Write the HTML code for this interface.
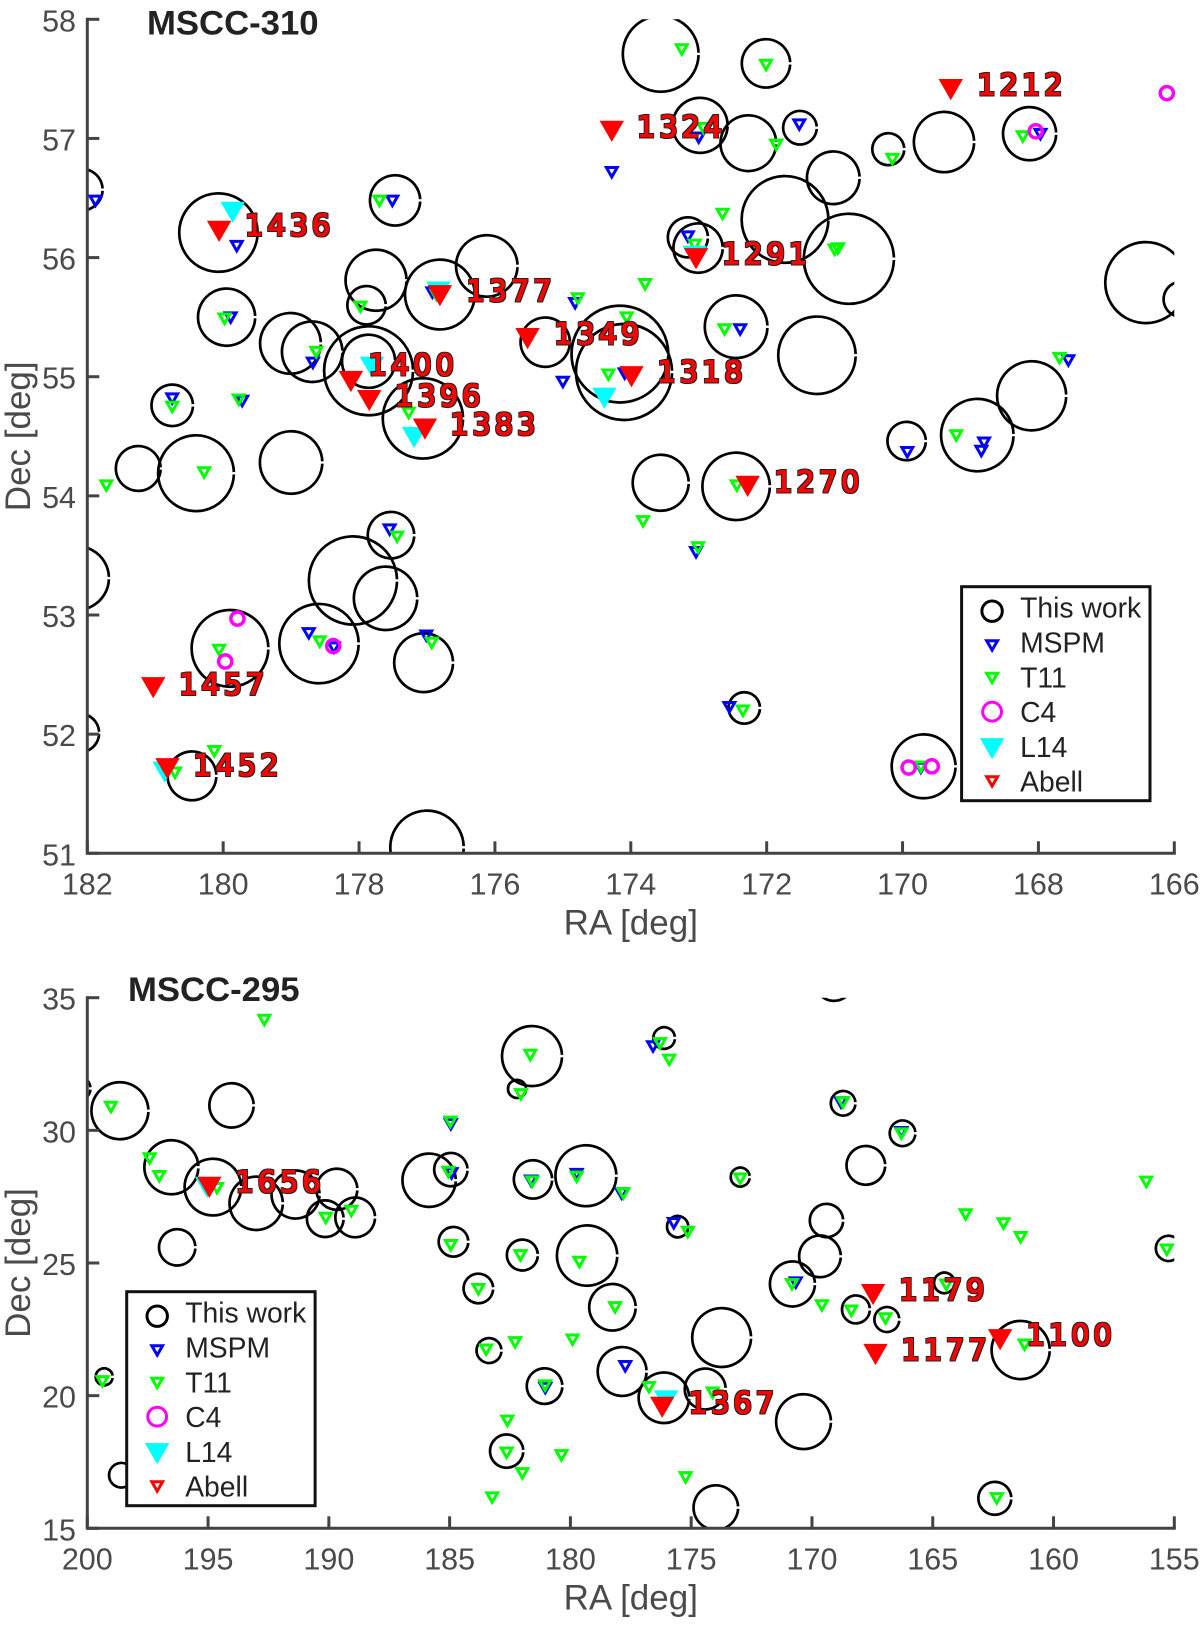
<!DOCTYPE html>
<html lang="en">
<head>
<meta charset="utf-8">
<title>MSCC-310 and MSCC-295 cluster maps</title>
<style>
html,body{margin:0;padding:0;background:#fff;}
svg{display:block;}
text{font-family:"Liberation Sans",sans-serif;}
</style>
</head>
<body>
<svg id="chart" xmlns="http://www.w3.org/2000/svg" width="1200" height="1627" viewBox="0 0 1200 1627">
<defs>
<filter id="label-outline" x="-15%" y="-15%" width="130%" height="130%">
<feMorphology in="SourceAlpha" operator="dilate" radius="1" result="grown"/>
<feFlood flood-color="#222" result="ink"/>
<feComposite in="ink" in2="grown" operator="in" result="outline"/>
<feMerge><feMergeNode in="outline"/><feMergeNode in="SourceGraphic"/></feMerge>
</filter>
</defs>
<rect x="0" y="0" width="1200" height="1627" fill="#fff"/>
</svg>
<script>
/* ---------- MSCC-310 data ---------- */
const p1XTicks = [182,180,178,176,174,172,170,168,166];
const p1YTicks = [58,57,56,55,54,53,52,51];
const p1CircleRa = [182.08,180.07,177.47,179.95,177.75,176.12,176.81,177.89,179.01,178.69,177.86,177.86,177.06,180.75,175.26,173.56,172.01,172.98,172.27,171.51,170.21,169.39,168.13,171.02,171.73,173.16,173.01,170.79,166.42,165.90,172.45,171.26,174.16,174.10,168.10,168.90,169.94,181.25,180.40,179.00,182.15,177.53,178.09,177.61,179.90,178.59,177.05,182.11,180.46,177.00,173.56,172.45,172.33,169.69];
const p1CircleDec = [56.57,56.21,56.48,55.50,55.81,55.93,55.69,55.60,55.28,55.21,55.05,55.13,54.65,54.76,55.29,57.71,57.63,57.11,56.96,57.09,56.91,56.97,57.04,56.67,56.32,56.17,56.08,55.99,55.79,55.65,55.42,55.18,55.19,55.04,54.84,54.51,54.46,54.23,54.19,54.28,53.31,53.67,53.29,53.14,52.72,52.76,52.60,52.01,51.65,51.05,54.11,54.08,52.22,51.73];
const p1CircleRadius = [0.174,0.329,0.211,0.240,0.256,0.258,0.293,0.161,0.255,0.254,0.373,0.223,0.337,0.174,0.207,0.318,0.203,0.231,0.234,0.141,0.134,0.253,0.223,0.221,0.364,0.168,0.207,0.378,0.340,0.147,0.263,0.325,0.406,0.403,0.290,0.304,0.161,0.188,0.318,0.262,0.267,0.195,0.370,0.266,0.322,0.333,0.247,0.162,0.205,0.308,0.235,0.283,0.132,0.268];
const p1MspmRa = [181.88,179.80,177.51,179.89,176.92,178.68,180.75,179.72,175.00,174.82,174.28,173.00,171.52,167.97,173.16,172.39,167.56,174.09,169.93,168.80,168.84,173.04,172.55,169.73,177.55,178.74,177.01,178.37];
const p1MspmDec = [56.47,56.09,56.47,55.49,55.70,55.11,54.81,54.79,54.95,55.61,56.71,57.00,57.11,57.03,56.17,55.39,55.13,55.02,54.36,54.44,54.37,53.52,52.22,51.71,53.71,52.84,52.82,52.72];
const p1T11Ra = [177.70,179.98,177.98,178.63,180.75,179.77,177.27,174.78,176.86,180.07,173.25,172.01,172.93,171.86,170.15,168.23,172.65,173.79,173.06,171.00,170.95,174.06,172.62,174.33,167.69,169.21,181.72,180.28,177.44,178.58,176.93,180.06,180.13,180.71,172.44,173.82,173.01,172.35,169.73];
const p1T11Dec = [56.47,55.48,55.58,55.20,54.74,54.80,54.69,55.65,55.68,56.23,57.74,57.61,57.08,56.94,56.82,57.01,56.36,55.77,56.10,56.06,56.07,55.49,55.39,55.01,55.15,54.50,54.08,54.19,53.65,52.77,52.76,52.70,51.85,51.67,54.08,53.78,53.56,52.19,51.72];
const p1C4Ra = [166.11,168.04,179.79,179.97,178.38,169.91,169.57];
const p1C4Dec = [57.38,57.06,52.97,52.61,52.74,51.72,51.73];
const p1L14Ra = [179.86,176.83,177.81,177.19,173.06,174.39,180.86];
const p1L14Dec = [56.38,55.71,55.08,54.49,56.01,54.82,51.68];
const p1AbellRa = [180.06,176.81,178.12,177.85,177.03,175.52,174.28,169.29,173.04,173.99,181.03,180.82,172.28];
const p1AbellDec = [56.22,55.68,54.96,54.80,54.56,55.32,57.06,57.41,55.99,55.00,52.39,51.71,54.08];
const p1AbellNames = ["1436","1377","1400","1396","1383","1349","1324","1212","1291","1318","1457","1452","1270"];
const p1LabelRa = [179.68,176.42,177.86,177.47,176.66,175.13,173.91,168.90,172.66,173.61,180.65,180.44,171.89];
const p1LabelDec = [56.18,55.63,55.01,54.75,54.51,55.27,57.01,57.36,55.94,54.95,52.33,51.65,54.03];

/* ---------- MSCC-295 data ---------- */
const p2XTicks = [200,195,190,185,180,175,170,165,160,155];
const p2YTicks = [35,30,25,20,15];
const p2CircleRa = [200.35,198.65,194.03,196.52,194.80,193.01,191.38,189.67,190.15,188.91,196.28,185.85,184.95,181.55,179.36,181.59,182.21,184.84,181.99,179.31,183.81,176.12,169.09,168.71,166.25,167.77,172.97,175.56,169.40,169.67,170.81,164.52,155.24,168.18,166.90,173.74,161.36,178.26,177.86,176.13,174.42,170.35,173.98,162.43,199.30,198.59,183.37,181.07,182.64];
const p2CircleDec = [31.58,30.74,30.94,28.61,27.86,27.25,27.58,27.78,26.67,26.72,25.59,28.12,28.52,28.15,28.29,32.80,31.56,25.80,25.30,25.28,24.04,33.48,35.60,31.02,29.89,28.68,28.24,26.37,26.60,25.25,24.21,24.25,25.55,23.25,22.87,22.19,21.72,23.33,20.91,19.92,20.25,19.02,15.78,16.13,20.71,17.00,21.70,20.36,17.91];
const p2CircleRadius = [0.44,1.074,0.835,1.018,1.068,1.005,0.905,0.773,0.691,0.748,0.685,1.005,0.628,0.722,1.149,1.131,0.34,0.559,0.584,1.137,0.558,0.408,0.72,0.465,0.484,0.729,0.358,0.402,0.628,0.785,0.848,0.388,0.477,0.526,0.47,1.109,1.096,0.877,0.921,0.952,0.771,1.034,0.84,0.62,0.32,0.464,0.47,0.67,0.627];
const p2MspmRa = [184.95,184.92,181.63,179.74,176.58,177.88,175.72,168.80,166.30,170.67,181.04,177.73];
const p2MspmDec = [30.20,28.35,28.07,28.32,33.13,27.59,26.47,31.02,29.90,24.23,20.26,21.08];
const p2T11Ra = [192.67,181.66,182.05,199.02,184.97,197.42,197.02,194.63,185.05,181.58,179.74,190.13,189.07,184.95,182.07,179.63,183.81,176.29,175.91,168.72,166.30,172.97,177.81,175.14,163.64,162.07,161.36,156.16,155.31,170.83,164.44,169.59,168.37,166.96,161.20,178.15,176.75,174.11,175.23,162.35,183.49,182.29,179.91,199.37,181.05,182.61,182.64,180.37,181.99,183.24];
const p2T11Dec = [34.13,32.81,31.33,30.85,30.29,28.91,28.24,27.79,28.40,28.04,28.22,26.67,26.93,25.64,25.26,25.01,23.98,33.25,32.63,31.02,29.85,28.15,27.59,26.14,26.80,26.46,25.94,28.03,25.47,24.17,24.15,23.37,23.17,22.88,21.89,23.30,20.29,20.08,16.89,16.10,21.70,21.98,22.08,20.51,20.35,19.02,17.82,17.72,17.04,16.13];
const p2C4Ra = [];
const p2C4Dec = [];
const p2L14Ra = [195.04,176.04];
const p2L14Dec = [27.85,19.80];
const p2AbellRa = [194.95,167.47,167.37,162.21,176.20];
const p2AbellDec = [27.85,23.81,21.55,22.11,19.56];
const p2AbellNames = ["1656","1179","1177","1100","1367"];
const p2LabelRa = [193.87,166.39,166.30,161.12,175.10];
const p2LabelDec = [27.65,23.58,21.33,21.89,19.32];

const legendEntries = ["This work","MSPM","T11","C4","L14","Abell"];

/* ---------- drawing ---------- */
const NS = "http://www.w3.org/2000/svg";
const svg = document.getElementById("chart");
const AXIS_COLOR = "#434343";
const SMALL_TRI = "-5.4,-5.5 5.4,-5.5 0,3.95";
const BIG_TRI = "-12.2,-10.6 12.2,-10.6 0,10.6";

function make(tag, attrs, parent) {
  const el = document.createElementNS(NS, tag);
  for (const k in attrs) el.setAttribute(k, attrs[k]);
  parent.appendChild(el);
  return el;
}
function xScale(p, v) { return p.left + (p.xMax - v) / (p.xMax - p.xMin) * (p.right - p.left); }
function yScale(p, v) { return p.top + (p.yMax - v) / (p.yMax - p.yMin) * (p.bottom - p.top); }
function pxPerDec(p) { return (p.bottom - p.top) / (p.yMax - p.yMin); }

function drawTri(parent, x, y, color, big, name) {
  const el = make("polygon", {
    points: big ? BIG_TRI : SMALL_TRI,
    transform: "translate(" + x.toFixed(2) + "," + y.toFixed(2) + ")",
    fill: big ? color : "none",
    stroke: big ? "none" : color,
    "stroke-width": big ? 0 : 3,
    "stroke-miterlimit": 10
  }, parent);
  
  
  return el;
}
function drawRing(parent, x, y, r, color, width, name) {
  const el = make("circle", { cx: x.toFixed(2), cy: y.toFixed(2), r: r, fill: "none", stroke: color, "stroke-width": width }, parent);
  
  
  return el;
}
function notchedCircle(x, y, r) {
  const a = 1.2 / r;
  const x1 = x + r * Math.cos(a), y1 = y + r * Math.sin(a);
  const x2 = x + r * Math.cos(a), y2 = y - r * Math.sin(a);
  return "M" + x1.toFixed(2) + " " + y1.toFixed(2) + "A" + r.toFixed(2) + " " + r.toFixed(2) + " 0 1 1 " + x2.toFixed(2) + " " + y2.toFixed(2);
}

function drawPanel(p) {
  const g = make("g", {}, svg);
  
  

  const clip = make("clipPath", { id: p.id + "-clip" }, g);
  make("rect", { x: p.left, y: p.top, width: p.right - p.left, height: p.bottom - p.top }, clip);

  /* this-work circles */
  const cg = make("g", { "clip-path": "url(#" + p.id + "-clip)" }, g);
  
  
  p.circleRa.forEach(function (ra, i) {
    const r = p.circleRadius[i] * pxPerDec(p);
    const c = make("path", {
      d: notchedCircle(xScale(p, ra), yScale(p, p.circleDec[i]), r),
      fill: "none", stroke: "#000", "stroke-width": 2.7
    }, cg);
    
    
  });

  /* axes */
  const ax = make("g", { stroke: AXIS_COLOR, "stroke-width": 3, fill: "none" }, g);
  
  
  const yAxis = make("line", { x1: p.left, y1: p.top - 1.5, x2: p.left, y2: p.bottom + 1.5 }, ax);
  
  
  const xAxis = make("line", { x1: p.left, y1: p.bottom, x2: p.right + 1.5, y2: p.bottom }, ax);
  
  

  p.xTicks.forEach(function (t) {
    const x = xScale(p, t);
    const tick = make("line", { x1: x, y1: p.bottom, x2: x, y2: p.bottom - 12 }, ax);
    
    
    const lab = make("text", { x: x, y: p.bottom + 41, "text-anchor": "middle", "font-size": 30.5, fill: "#4a4a4a" }, g);
    lab.textContent = t;
    
    
  });
  p.yTicks.forEach(function (t) {
    const y = yScale(p, t);
    const tick = make("line", { x1: p.left, y1: y, x2: p.left + 12, y2: y }, ax);
    
    
    const lab = make("text", { x: 76, y: y + 12, "text-anchor": "end", "font-size": 30.5, fill: "#4a4a4a" }, g);
    lab.textContent = t;
    
    
  });

  const xTitle = make("text", { x: (p.left + p.right) / 2 + 0, y: p.bottom + 81, "text-anchor": "middle", "font-size": 35, fill: "#4a4a4a" }, g);
  xTitle.textContent = "RA [deg]";
  
  

  const yc = (p.top + p.bottom) / 2;
  const yTitle = make("text", { x: 0, y: 0, transform: "translate(30," + yc + ") rotate(-90)", "text-anchor": "middle", "font-size": 35, fill: "#4a4a4a" }, g);
  yTitle.textContent = "Dec [deg]";
  
  

  const title = make("text", { x: p.titleX, y: p.titleY, "font-size": 34.7, "font-weight": "bold", fill: "#222" }, g);
  title.textContent = p.title;
  
  

  /* catalogue markers */
  p.mspmRa.forEach(function (ra, i) { drawTri(g, xScale(p, ra), yScale(p, p.mspmDec[i]), "#0000ff", false, "mspm-marker"); });
  p.t11Ra.forEach(function (ra, i) { drawTri(g, xScale(p, ra), yScale(p, p.t11Dec[i]), "#00ff00", false, "t11-marker"); });
  p.c4Ra.forEach(function (ra, i) { drawRing(g, xScale(p, ra), yScale(p, p.c4Dec[i]), 6.6, "#ff00ff", 3.4, "c4-marker"); });
  p.l14Ra.forEach(function (ra, i) { drawTri(g, xScale(p, ra), yScale(p, p.l14Dec[i]), "#00ffff", true, "l14-marker"); });
  p.abellRa.forEach(function (ra, i) { drawTri(g, xScale(p, ra), yScale(p, p.abellDec[i]), "#ff0000", true, "abell-marker"); });

  /* Abell labels */
  p.abellNames.forEach(function (name, i) {
    const t = make("text", {
      x: xScale(p, p.labelRa[i]).toFixed(2),
      y: (yScale(p, p.labelDec[i]) - 0.5).toFixed(2),
      "font-size": 29,
      "letter-spacing": 3.85,
      fill: "#ff0000",
      stroke: "#ff0000",
      "stroke-width": 1,
      filter: "url(#label-outline)",
      style: 'font-family:"DejaVu Sans",sans-serif'
    }, g);
    t.textContent = name;
    
    
  });

  /* legend */
  const lg = make("g", {}, g);
  
  
  const box = make("rect", { x: p.legendX, y: p.legendY, width: 188.4, height: 214, fill: "#fff", stroke: "#111", "stroke-width": 3 }, lg);
  
  
  const mx = p.legendX + 30.5;
  const markerY = [24.5, 59.5, 92, 125, 162, 195.5];
  legendEntries.forEach(function (label, i) {
    const ty = p.legendY + 31 + i * 34.8;
    const t = make("text", { x: p.legendX + 58.5, y: ty, "font-size": 28.3, fill: "#222" }, lg);
    t.textContent = label;
    
    
    const my = p.legendY + markerY[i];
    if (i === 0) drawRing(lg, mx, my, 10.2, "#000", 3, "legend-this-work-marker");
    if (i === 1) drawTri(lg, mx, my, "#0000ff", false, "legend-mspm-marker");
    if (i === 2) drawTri(lg, mx, my, "#00ff00", false, "legend-t11-marker");
    if (i === 3) drawRing(lg, mx, my, 9.4, "#ff00ff", 3, "legend-c4-marker");
    if (i === 4) drawTri(lg, mx, my, "#00ffff", true, "legend-l14-marker");
    if (i === 5) drawTri(lg, mx, my, "#ff0000", false, "legend-abell-marker");
  });
}

drawPanel({
  id: "mscc-310", title: "MSCC-310", titleX: 147, titleY: 34.5,
  left: 87.3, right: 1174.3, top: 19.3, bottom: 853.3,
  xMax: 182, xMin: 166, yMax: 58, yMin: 51,
  legendX: 961.6, legendY: 586.7,
  xTicks: p1XTicks, yTicks: p1YTicks,
  circleRa: p1CircleRa, circleDec: p1CircleDec, circleRadius: p1CircleRadius,
  mspmRa: p1MspmRa, mspmDec: p1MspmDec, t11Ra: p1T11Ra, t11Dec: p1T11Dec,
  c4Ra: p1C4Ra, c4Dec: p1C4Dec, l14Ra: p1L14Ra, l14Dec: p1L14Dec,
  abellRa: p1AbellRa, abellDec: p1AbellDec, abellNames: p1AbellNames,
  labelRa: p1LabelRa, labelDec: p1LabelDec
});
drawPanel({
  id: "mscc-295", title: "MSCC-295", titleX: 128, titleY: 1001,
  left: 87.3, right: 1174.3, top: 997.7, bottom: 1528.3,
  xMax: 200, xMin: 155, yMax: 35, yMin: 15,
  legendX: 126.7, legendY: 1291.7,
  xTicks: p2XTicks, yTicks: p2YTicks,
  circleRa: p2CircleRa, circleDec: p2CircleDec, circleRadius: p2CircleRadius,
  mspmRa: p2MspmRa, mspmDec: p2MspmDec, t11Ra: p2T11Ra, t11Dec: p2T11Dec,
  c4Ra: p2C4Ra, c4Dec: p2C4Dec, l14Ra: p2L14Ra, l14Dec: p2L14Dec,
  abellRa: p2AbellRa, abellDec: p2AbellDec, abellNames: p2AbellNames,
  labelRa: p2LabelRa, labelDec: p2LabelDec
});
</script>
</body>
</html>
